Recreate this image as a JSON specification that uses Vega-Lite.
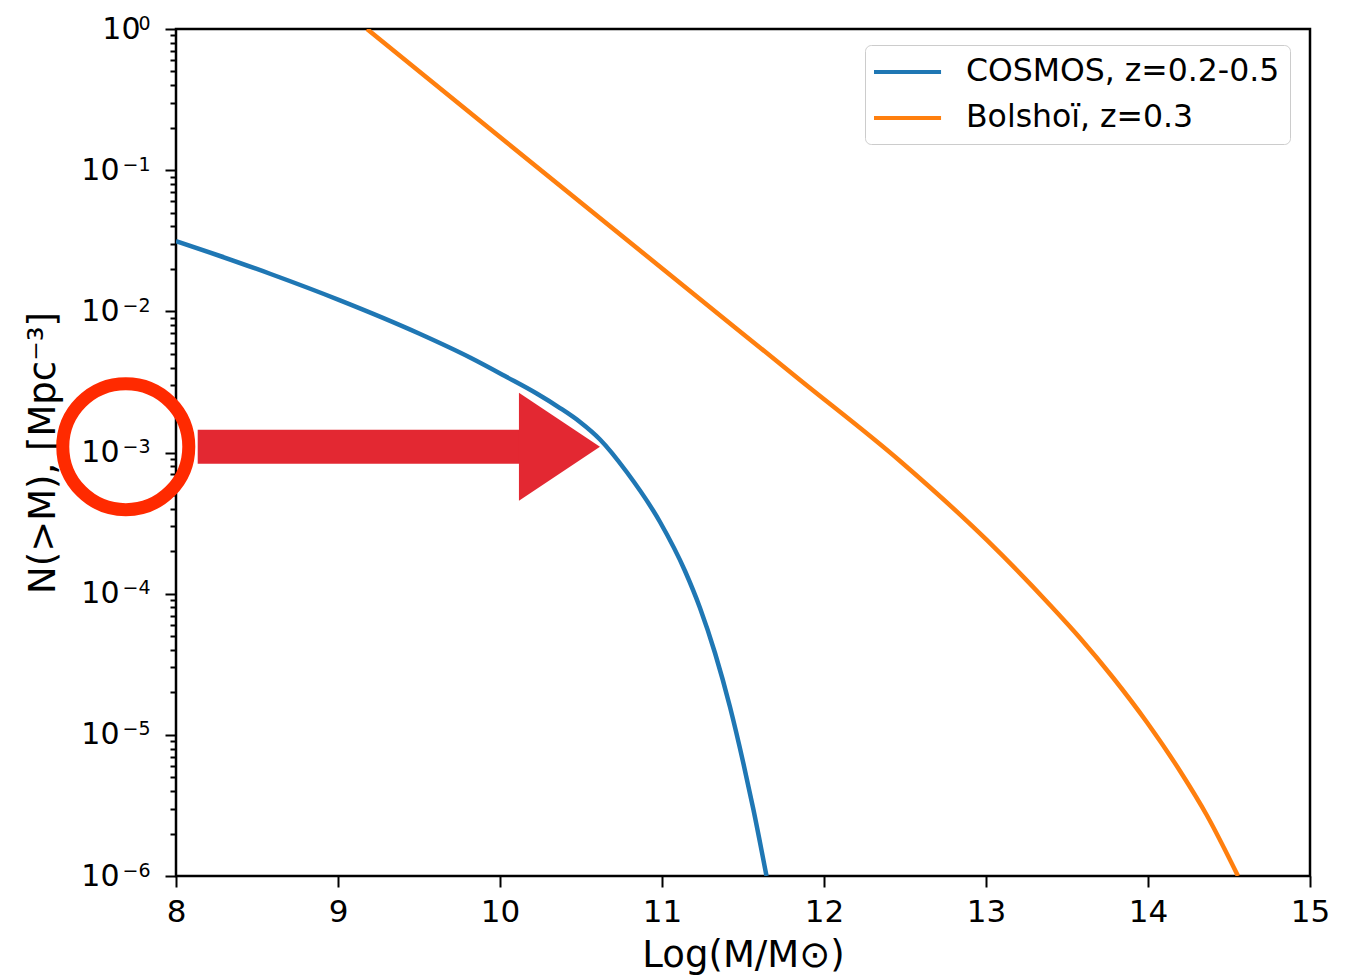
{
  "$schema": "https://vega.github.io/schema/vega-lite/v6.json",
  "width": 1134,
  "height": 847,
  "autosize": "none",
  "padding": {"left": 176, "top": 29, "right": 46, "bottom": 102},
  "background": "white",
  "config": {
    "font": "DejaVu Sans",
    "view": {"stroke": "#000000", "strokeWidth": 2.5},
    "axis": {
      "domain": false,
      "grid": false,
      "tickColor": "#000000",
      "tickWidth": 2,
      "labelColor": "#000000",
      "titleColor": "#000000",
      "labelFont": "DejaVu Sans",
      "titleFont": "DejaVu Sans",
      "titleFontWeight": "normal"
    }
  },
  "datasets": {
    "curves": [
      {"series": "COSMOS, z=0.2-0.5", "logM": 8.0, "N": 0.03148},
      {"series": "COSMOS, z=0.2-0.5", "logM": 8.2716, "N": 0.02466},
      {"series": "COSMOS, z=0.2-0.5", "logM": 8.5802, "N": 0.01846},
      {"series": "COSMOS, z=0.2-0.5", "logM": 9.0123, "N": 0.01196},
      {"series": "COSMOS, z=0.2-0.5", "logM": 9.5, "N": 0.006966},
      {"series": "COSMOS, z=0.2-0.5", "logM": 9.8148, "N": 0.00471},
      {"series": "COSMOS, z=0.2-0.5", "logM": 10.0414, "N": 0.003426},
      {"series": "COSMOS, z=0.2-0.5", "logM": 10.2265, "N": 0.002618},
      {"series": "COSMOS, z=0.2-0.5", "logM": 10.3704, "N": 0.002066},
      {"series": "COSMOS, z=0.2-0.5", "logM": 10.4938, "N": 0.001645},
      {"series": "COSMOS, z=0.2-0.5", "logM": 10.6173, "N": 0.001237},
      {"series": "COSMOS, z=0.2-0.5", "logM": 10.7821, "N": 0.0007274},
      {"series": "COSMOS, z=0.2-0.5", "logM": 10.9877, "N": 0.0003218},
      {"series": "COSMOS, z=0.2-0.5", "logM": 11.142, "N": 0.0001447},
      {"series": "COSMOS, z=0.2-0.5", "logM": 11.2346, "N": 0.00007917},
      {"series": "COSMOS, z=0.2-0.5", "logM": 11.3272, "N": 0.000038},
      {"series": "COSMOS, z=0.2-0.5", "logM": 11.4198, "N": 0.00001575},
      {"series": "COSMOS, z=0.2-0.5", "logM": 11.5019, "N": 0.00000632},
      {"series": "COSMOS, z=0.2-0.5", "logM": 11.5636, "N": 0.000002983},
      {"series": "COSMOS, z=0.2-0.5", "logM": 11.6451, "N": 0.000001},
      {"series": "Bolshoï, z=0.3", "logM": 9.179, "N": 1.0},
      {"series": "Bolshoï, z=0.3", "logM": 10.0414, "N": 0.157},
      {"series": "Bolshoï, z=0.3", "logM": 11.0698, "N": 0.01737},
      {"series": "Bolshoï, z=0.3", "logM": 11.8519, "N": 0.003264},
      {"series": "Bolshoï, z=0.3", "logM": 12.4691, "N": 0.0008705},
      {"series": "Bolshoï, z=0.3", "logM": 13.0043, "N": 0.0002401},
      {"series": "Bolshoï, z=0.3", "logM": 13.3951, "N": 0.00008313},
      {"series": "Bolshoï, z=0.3", "logM": 13.5802, "N": 0.00004853},
      {"series": "Bolshoï, z=0.3", "logM": 13.7858, "N": 0.00002527},
      {"series": "Bolshoï, z=0.3", "logM": 13.992, "N": 0.00001233},
      {"series": "Bolshoï, z=0.3", "logM": 14.1975, "N": 0.000005545},
      {"series": "Bolshoï, z=0.3", "logM": 14.3623, "N": 0.000002705},
      {"series": "Bolshoï, z=0.3", "logM": 14.5556, "N": 0.000001}
    ],
    "ring": [{"logM": 7.69, "N": 0.0011}],
    "shaft": [{"logM": 8.134, "logM2": 10.25, "N": 0.0011}],
    "head": [{"logM": 10.367, "N": 0.0011}]
  },
  "resolve": {"axis": {"x": "independent", "y": "independent"}},
  "layer": [
    {
      "data": {"name": "curves"},
      "mark": {"type": "line", "strokeWidth": 4.5, "interpolate": "monotone", "clip": true},
      "encoding": {
        "x": {
          "field": "logM", "type": "quantitative",
          "scale": {"domain": [8, 15], "nice": false, "zero": false},
          "axis": {
            "orient": "bottom",
            "values": [8, 9, 10, 11, 12, 13, 14, 15],
            "tickSize": 11,
            "labelFontSize": 31,
            "labelPadding": 10,
            "labelFlush": false,
            "labelOverlap": false,
            "labelBound": false,
            "title": "Log(M/M⊙)",
            "titleFontSize": 37,
            "titleBaseline": "alphabetic",
            "titleX": 567,
            "titleY": 90
          }
        },
        "y": {
          "field": "N", "type": "quantitative",
          "scale": {"type": "log", "domain": [0.000001, 1], "nice": false},
          "axis": {
            "orient": "left",
            "values": [0.000001, 0.000002, 0.000003, 0.000004, 0.000005, 0.000006, 0.000007, 0.000008, 0.000009,
                       0.00001, 0.00002, 0.00003, 0.00004, 0.00005, 0.00006, 0.00007, 0.00008, 0.00009,
                       0.0001, 0.0002, 0.0003, 0.0004, 0.0005, 0.0006, 0.0007, 0.0008, 0.0009,
                       0.001, 0.002, 0.003, 0.004, 0.005, 0.006, 0.007, 0.008, 0.009,
                       0.01, 0.02, 0.03, 0.04, 0.05, 0.06, 0.07, 0.08, 0.09,
                       0.1, 0.2, 0.3, 0.4, 0.5, 0.6, 0.7, 0.8, 0.9, 1],
            "tickSize": {"condition": {"test": "abs(log(datum.value)/LN10 - round(log(datum.value)/LN10)) < 0.01", "value": 11}, "value": 6},
            "labelExpr": "abs(log(datum.value)/LN10 - round(log(datum.value)/LN10)) < 0.01 ? '10' : ''",
            "labelFontSize": 30,
            "labelAlign": "right",
            "labelBaseline": "middle",
            "labelPadding": {"condition": {"test": "datum.value > 0.5", "value": 25}, "value": 46},
            "labelOverlap": false,
            "labelBound": false,
            "labelFlush": false,
            "title": "N(>M), [Mpc⁻³]",
            "titleFontSize": 37,
            "titleAngle": 270,
            "titleBaseline": "alphabetic",
            "titleX": -122,
            "titleY": 423.5
          }
        },
        "color": {
          "field": "series", "type": "nominal",
          "scale": {"domain": ["COSMOS, z=0.2-0.5", "Bolshoï, z=0.3"], "range": ["#1f77b4", "#ff7f0e"]},
          "legend": {
            "orient": "none",
            "legendX": 689,
            "legendY": 16,
            "title": null,
            "symbolType": "M-1.2,0L3.27,0",
            "symbolSize": 900,
            "symbolStrokeWidth": 4,
            "labelFontSize": 31.5,
            "labelFont": "DejaVu Sans",
            "labelColor": "#000000",
            "labelOffset": 57,
            "labelLimit": 0,
            "padding": 10,
            "rowPadding": 13,
            "fillColor": "#ffffff",
            "strokeColor": "#cccccc",
            "cornerRadius": 6
          }
        }
      }
    },
    {
      "data": {"name": "ring"},
      "mark": {"type": "point", "shape": "circle", "filled": false, "size": 15876, "strokeWidth": 13, "stroke": "#ff2a00", "opacity": 1, "clip": false},
      "encoding": {
        "x": {"field": "logM", "type": "quantitative", "scale": {"domain": [8, 15], "nice": false, "zero": false}, "axis": null},
        "y": {
          "field": "N", "type": "quantitative",
          "scale": {"type": "log", "domain": [0.000001, 1], "nice": false},
          "axis": {
            "orient": "left",
            "values": [0.000001, 0.00001, 0.0001, 0.001, 0.01, 0.1, 1],
            "ticks": false,
            "tickSize": 0,
            "domain": false,
            "labelExpr": "['−6','−5','−4','−3','−2','−1','0'][round(log(datum.value)/LN10)+6]",
            "labelFontSize": 19,
            "labelAlign": "right",
            "labelBaseline": "middle",
            "labelPadding": 26,
            "labelOffset": -6,
            "labelOverlap": false,
            "labelBound": false,
            "labelFlush": false,
            "title": null
          }
        }
      }
    },
    {
      "data": {"name": "shaft"},
      "mark": {"type": "rule", "strokeWidth": 34, "stroke": "#e32832", "strokeCap": "butt", "clip": false},
      "encoding": {
        "x": {"field": "logM", "type": "quantitative", "scale": {"domain": [8, 15], "nice": false, "zero": false}, "axis": null},
        "x2": {"field": "logM2"},
        "y": {"field": "N", "type": "quantitative", "scale": {"type": "log", "domain": [0.000001, 1], "nice": false}, "axis": null}
      }
    },
    {
      "data": {"name": "head"},
      "mark": {"type": "point", "shape": "M-0.75,-1L0.75,0L-0.75,1Z", "filled": true, "size": 11664, "fill": "#e32832", "strokeWidth": 0, "opacity": 1, "clip": false},
      "encoding": {
        "x": {"field": "logM", "type": "quantitative", "scale": {"domain": [8, 15], "nice": false, "zero": false}, "axis": null},
        "y": {"field": "N", "type": "quantitative", "scale": {"type": "log", "domain": [0.000001, 1], "nice": false}, "axis": null}
      }
    }
  ]
}
